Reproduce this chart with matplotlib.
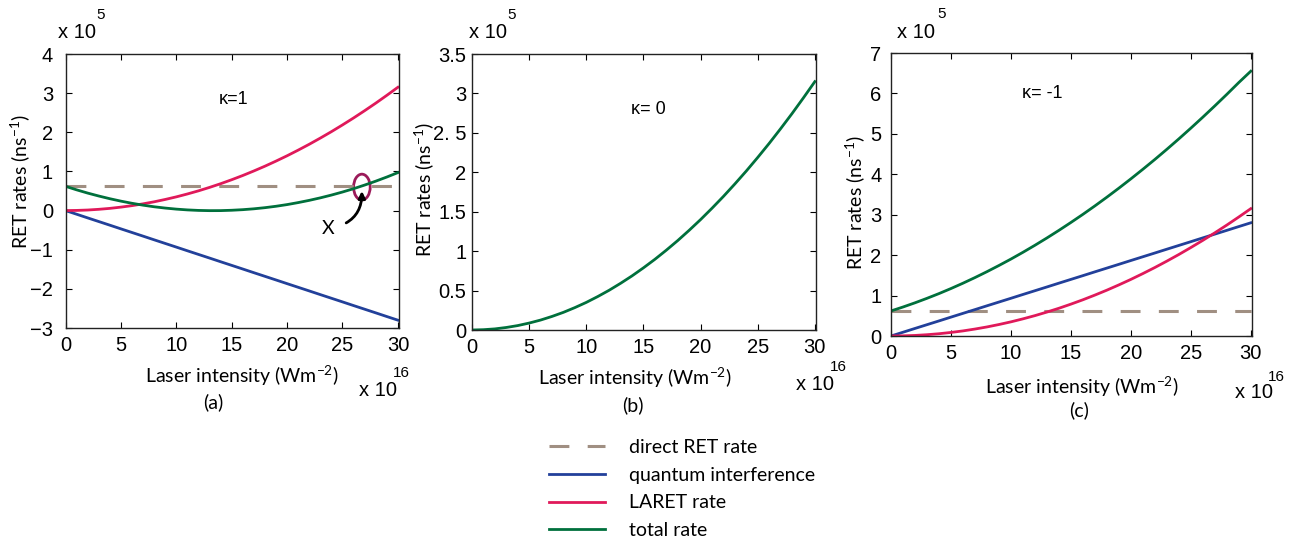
import matplotlib.pyplot as plt
from matplotlib.patches import Ellipse

# intensity in units of 1e16 W m^-2, rates in units of 1e5 ns^-1
intensidad = list(range(0, 31))
directa = [0.62] * len(intensidad)
laret = [0, 0.004, 0.014, 0.032, 0.056, 0.088, 0.126, 0.172, 0.224, 0.284,
         0.35, 0.424, 0.504, 0.592, 0.686, 0.788, 0.896, 1.012, 1.134, 1.264,
         1.40, 1.544, 1.694, 1.852, 2.016, 2.188, 2.366, 2.552, 2.744, 2.944, 3.15]
interf_a = [0, -0.093, -0.187, -0.28, -0.373, -0.467, -0.56, -0.653, -0.747, -0.84,
            -0.933, -1.027, -1.12, -1.213, -1.307, -1.40, -1.493, -1.587, -1.68, -1.773,
            -1.867, -1.96, -2.053, -2.147, -2.24, -2.333, -2.427, -2.52, -2.613, -2.707, -2.80]
total_a = [0.62, 0.53, 0.447, 0.372, 0.303, 0.241, 0.186, 0.138, 0.097, 0.064,
           0.037, 0.017, 0.004, -0.002, -0.001, 0.008, 0.023, 0.045, 0.074, 0.11,
           0.153, 0.204, 0.261, 0.325, 0.396, 0.474, 0.559, 0.652, 0.751, 0.857, 0.97]
total_b = [0, 0.004, 0.014, 0.032, 0.056, 0.088, 0.126, 0.172, 0.224, 0.284,
           0.35, 0.424, 0.504, 0.592, 0.686, 0.788, 0.896, 1.012, 1.134, 1.264,
           1.40, 1.544, 1.694, 1.852, 2.016, 2.188, 2.366, 2.552, 2.744, 2.944, 3.15]
interf_c = [0, 0.093, 0.187, 0.28, 0.373, 0.467, 0.56, 0.653, 0.747, 0.84,
            0.933, 1.027, 1.12, 1.213, 1.307, 1.40, 1.493, 1.587, 1.68, 1.773,
            1.867, 1.96, 2.053, 2.147, 2.24, 2.333, 2.427, 2.52, 2.613, 2.707, 2.80]
total_c = [0.62, 0.717, 0.821, 0.932, 1.049, 1.174, 1.306, 1.445, 1.591, 1.744,
           1.903, 2.07, 2.244, 2.425, 2.613, 2.808, 3.009, 3.218, 3.434, 3.657,
           3.887, 4.124, 4.367, 4.618, 4.876, 5.141, 5.413, 5.692, 5.977, 6.27, 6.55]

etiquetas = ["direct RET rate", "quantum interference", "LARET rate", "total rate"]
c_dir, c_int, c_laret, c_tot = "#a08f82", "#22409a", "#e0195a", "#00703c"

plt.rcParams["mathtext.default"] = "regular"
fuente_tick = "Liberation Sans"
fuente_txt = "Lato"

W, H = 1295, 541
fig = plt.figure(figsize=(W / 100, H / 100), dpi=100)


def crear_ejes(izq, der, arriba, abajo):
    return fig.add_axes([izq / W, 1 - abajo / H, (der - izq) / W, (abajo - arriba) / H])


def decorar(ax, yticks, ylim, ypad, ylab_x, ylab_y, xlab_x, xlab_y, letra, kappa,
            exp5, exp16):
    ax.set_xlim(0, 30.1)
    ax.set_ylim(*ylim)
    ax.set_xticks([0, 5, 10, 15, 20, 25, 30])
    ax.set_yticks(yticks)
    ax.tick_params(direction="in", top=True, right=True, length=4, width=0.8,
                   labelsize=14.5)
    ax.tick_params(axis="y", pad=ypad)
    ax.tick_params(axis="x", pad=6)
    for lab in ax.get_xticklabels() + ax.get_yticklabels():
        lab.set_fontfamily(fuente_tick)
    for s in ax.spines.values():
        s.set_linewidth(1.0)
        s.set_color("#222222")
    ax.text(ylab_x, ylab_y, "RET rates (ns$^{-1}$)", transform=ax.transAxes,
            rotation=90, ha="center", va="center", fontsize=14, family=fuente_txt)
    ax.text(xlab_x, xlab_y, "Laser intensity (Wm$^{-2}$)", transform=ax.transAxes,
            ha="center", va="center", fontsize=14, family=fuente_txt)
    ax.annotate(letra[0], xy=letra[1], xycoords="figure pixels", ha="center",
                va="center", fontsize=14, family=fuente_txt)
    ax.text(kappa[0], kappa[1], kappa[2], ha="center", va="center", fontsize=13,
            family=fuente_tick)
    # multipliers
    ax.annotate("x 10", xy=(0, 1), xycoords="axes fraction", xytext=(exp5[0], exp5[1]),
                textcoords="offset pixels", ha="left", va="center", fontsize=14.5,
                family=fuente_tick)
    ax.annotate("5", xy=(0, 1), xycoords="axes fraction", xytext=(exp5[2], exp5[3]),
                textcoords="offset pixels", ha="left", va="center", fontsize=11,
                family=fuente_tick)
    ax.annotate("x 10", xy=(1, 0), xycoords="axes fraction", xytext=(exp16[0], exp16[1]),
                textcoords="offset pixels", ha="right", va="center", fontsize=14.5,
                family=fuente_tick)
    ax.annotate("16", xy=(1, 0), xycoords="axes fraction", xytext=(exp16[2], exp16[3]),
                textcoords="offset pixels", ha="left", va="center", fontsize=11,
                family=fuente_tick)


lw = 2.0
guiones = (6.5, 6)

# (a) kappa = 1
ax1 = crear_ejes(65.5, 399, 54, 328)
l_dir, = ax1.plot(intensidad, directa, color=c_dir, lw=2.2, dashes=guiones)
l_int, = ax1.plot(intensidad, interf_a, color=c_int, lw=lw)
l_lar, = ax1.plot(intensidad, laret, color=c_laret, lw=lw)
l_tot, = ax1.plot(intensidad, total_a, color=c_tot, lw=lw)
ax1.add_patch(Ellipse((26.75, 0.6), 1.5, 0.66, fill=False, ec="#9b1b5a", lw=2))
ax1.annotate("X", xy=(26.75, 0.5), xytext=(23.7, -0.45), fontsize=14,
             family=fuente_txt, ha="center", va="center",
             arrowprops=dict(arrowstyle="-|>", color="black", lw=2,
                             connectionstyle="arc3,rad=0.45",
                             shrinkA=7, shrinkB=0, mutation_scale=10))
decorar(ax1, [-3, -2, -1, 0, 1, 2, 3, 4], (-3, 4), 9, -0.135, 0.535, 0.53, -0.175,
        ("(a)", (213, H - 402)), (15.2, 2.85, "κ=1"), (-8, 21, 31, 39), (-2, -62, -6, -45))
ax1.set_yticklabels(["\u22123", "\u22122", "\u22121", "0", "1", "2", "3", "4"])

# (b) kappa = 0
ax2 = crear_ejes(472, 816, 54, 330)
ax2.plot(intensidad, total_b, color=c_tot, lw=lw)
decorar(ax2, [0, 0.5, 1, 1.5, 2, 2.5, 3, 3.5], (0, 3.5), 4, -0.14, 0.51, 0.474, -0.174,
        ("(b)", (633, H - 405)), (15.4, 2.8, "κ= 0"), (-3, 21, 35, 39), (18, -55, 14, -37))
ax2.set_yticklabels(["0", "0.5", "1", "1.5", "2", "2. 5", "3", "3.5"])

# (c) kappa = -1
ax3 = crear_ejes(891, 1252, 53, 336)
ax3.plot(intensidad, directa, color=c_dir, lw=2.2, dashes=guiones)
ax3.plot(intensidad, interf_c, color=c_int, lw=lw)
ax3.plot(intensidad, laret, color=c_laret, lw=lw)
ax3.plot(intensidad, total_c, color=c_tot, lw=lw)
decorar(ax3, [0, 1, 2, 3, 4, 5, 6, 7], (0, 7), 7, -0.1, 0.473, 0.529, -0.18,
        ("(c)", (1079, H - 410)), (12.6, 6.0, "κ= -1"), (6, 21, 46, 39), (21, -57, 16, -41))

fig.legend([l_dir, l_int, l_lar, l_tot], etiquetas, loc="upper left",
           bbox_to_anchor=(549 / W, 1 - 439 / H), frameon=False,
           prop={"family": fuente_txt, "size": 14}, handlelength=2.9,
           handletextpad=1.2, labelspacing=0.55, borderpad=0, borderaxespad=0)

fig.savefig("out.png", dpi=100)
